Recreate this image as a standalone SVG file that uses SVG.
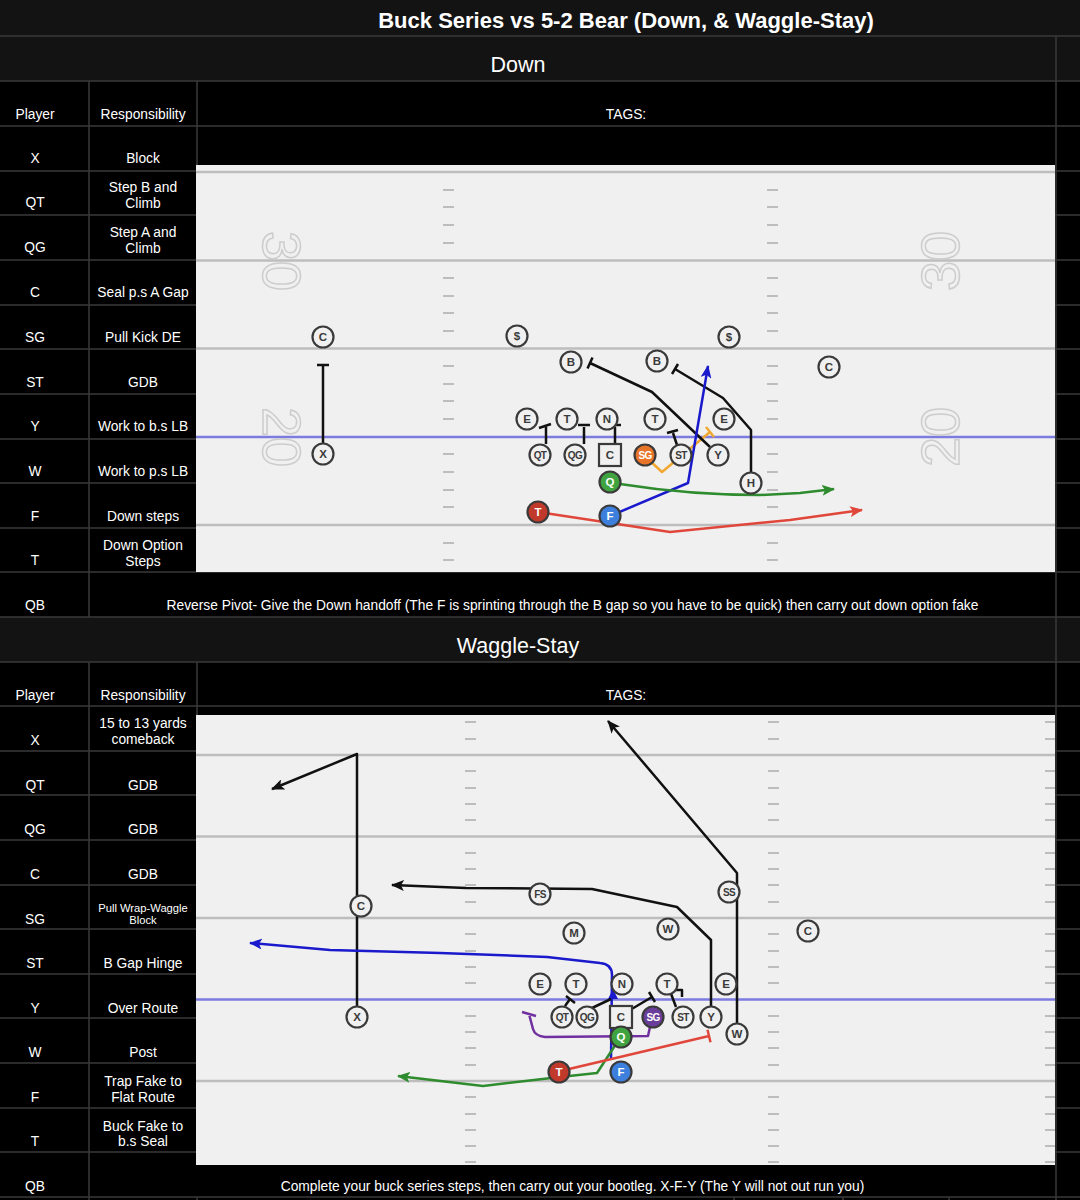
<svg xmlns="http://www.w3.org/2000/svg" width="1080" height="1200" viewBox="0 0 1080 1200">
<defs>
<style>
.t{font-family:"Liberation Sans",Arial,sans-serif;fill:#fff;text-anchor:middle}
.c13{font-size:13.8px}
.c11{font-size:11.2px}
.grid{stroke:#3a3a3a;stroke-width:1.5;fill:none}
.field{fill:#f0f0f0}
.yard{stroke:#bdbdbd;stroke-width:2.5;fill:none}
.hash{stroke:#bdbdbd;stroke-width:2;fill:none}
.los{stroke:#7b7be0;stroke-width:2.5;fill:none}
.num{font-family:"Liberation Sans",Arial,sans-serif;font-size:54px;fill:none;stroke:#cdcdcd;stroke-width:1.5;text-anchor:middle}
.p circle,.p rect{fill:#f0f0f0;stroke:#3a3a3a;stroke-width:2.2}
.p text{font-family:"Liberation Sans",Arial,sans-serif;font-weight:bold;font-size:11.5px;fill:#3a3a3a;text-anchor:middle}
.p text.s{font-size:10px;letter-spacing:-0.6px}
.p.col text{fill:#fff}
.rt{fill:none;stroke-width:2.5;stroke-linejoin:round;stroke-linecap:butt}
.k{stroke:#111}
.bl{stroke:#1a1acc}
.gr{stroke:#2e8b2e}
.rd{stroke:#e0463a}
.or{stroke:#f0a830}
.pu{stroke:#7030a0}
</style>
<marker id="ak" viewBox="0 0 13 11" refX="12" refY="5.5" markerWidth="13" markerHeight="11" markerUnits="userSpaceOnUse" orient="auto"><path d="M0,0 L13,5.5 L0,11 L3,5.5 z" fill="#111"/></marker>
<marker id="ab" viewBox="0 0 13 11" refX="12" refY="5.5" markerWidth="13" markerHeight="11" markerUnits="userSpaceOnUse" orient="auto"><path d="M0,0 L13,5.5 L0,11 L3,5.5 z" fill="#1a1acc"/></marker>
<marker id="ag" viewBox="0 0 13 11" refX="12" refY="5.5" markerWidth="13" markerHeight="11" markerUnits="userSpaceOnUse" orient="auto"><path d="M0,0 L13,5.5 L0,11 L3,5.5 z" fill="#2e8b2e"/></marker>
<marker id="ar" viewBox="0 0 13 11" refX="12" refY="5.5" markerWidth="13" markerHeight="11" markerUnits="userSpaceOnUse" orient="auto"><path d="M0,0 L13,5.5 L0,11 L3,5.5 z" fill="#e0463a"/></marker>
</defs>

<!-- backgrounds -->
<rect x="0" y="0" width="1080" height="1200" fill="#000"/>
<rect x="0" y="0" width="1080" height="36" fill="#131313"/>
<rect x="0" y="36" width="1080" height="45" fill="#131313"/>
<rect x="0" y="617" width="1080" height="45" fill="#131313"/>

<!-- grid -->
<g id="grid" class="grid">
<path d="M0 36H1080 M0 81H1080 M0 126H1080 M0 171H1080 M0 215H1080 M0 260H1080 M0 305H1080 M0 349H1080 M0 394H1080 M0 439H1080 M0 483H1080 M0 528H1080 M0 572H1080 M0 617H1080 M0 662H1080 M0 706H1080 M0 751H1080 M0 795H1080 M0 840H1080 M0 885H1080 M0 929H1080 M0 974H1080 M0 1018H1080 M0 1063H1080 M0 1108H1080 M0 1152H1080 M0 1197H1080"/>
<path d="M89 81V617 M197 81V572 M89 662V1200 M197 662V1152 M1056 36V1200 M197 1197V1200 M734 1197V1200 M843 1197V1200 M949 1197V1200"/>
</g>

<!-- header texts -->
<text class="t" x="626" y="28" font-size="22" font-weight="bold">Buck Series vs 5-2 Bear (Down, &amp; Waggle-Stay)</text>
<text class="t" x="518" y="72" font-size="21.5">Down</text>
<text class="t" x="518" y="653" font-size="21.5">Waggle-Stay</text>

<!-- table texts top -->
<g class="t c13">
<text x="35" y="118.5">Player</text><text x="143" y="118.5">Responsibility</text><text x="626" y="118.5">TAGS:</text>
<text x="35" y="162.5">X</text><text x="143" y="162.5">Block</text>
<text x="35" y="207">QT</text><text x="143" y="191.5">Step B and</text><text x="143" y="207.5">Climb</text>
<text x="35" y="251.5">QG</text><text x="143" y="236.5">Step A and</text><text x="143" y="252.5">Climb</text>
<text x="35" y="296.5">C</text><text x="143" y="296.5">Seal p.s A Gap</text>
<text x="35" y="341.5">SG</text><text x="143" y="341.5">Pull Kick DE</text>
<text x="35" y="386.5">ST</text><text x="143" y="386.5">GDB</text>
<text x="35" y="430.5">Y</text><text x="143" y="430.5">Work to b.s LB</text>
<text x="35" y="475.5">W</text><text x="143" y="475.5">Work to p.s LB</text>
<text x="35" y="520.5">F</text><text x="143" y="520.5">Down steps</text>
<text x="35" y="564.5">T</text><text x="143" y="549.5">Down Option</text><text x="143" y="565.5">Steps</text>
<text x="35" y="609.5">QB</text><text x="572.5" y="609.5">Reverse Pivot- Give the Down handoff (The F is sprinting through the B gap so you have to be quick) then carry out down option fake</text>
</g>

<!-- table texts bottom -->
<g class="t c13">
<text x="35" y="699.5">Player</text><text x="143" y="699.5">Responsibility</text><text x="626" y="699.5">TAGS:</text>
<text x="35" y="744.5">X</text><text x="143" y="727.5">15 to 13 yards</text><text x="143" y="743.5">comeback</text>
<text x="35" y="789.5">QT</text><text x="143" y="789.5">GDB</text>
<text x="35" y="833.5">QG</text><text x="143" y="833.5">GDB</text>
<text x="35" y="878.5">C</text><text x="143" y="878.5">GDB</text>
<text x="35" y="923.5">SG</text><text class="c11" x="143" y="911.5">Pull Wrap-Waggle</text><text class="c11" x="143" y="924">Block</text>
<text x="35" y="967.5">ST</text><text x="143" y="967.5">B Gap Hinge</text>
<text x="35" y="1012.5">Y</text><text x="143" y="1012.5">Over Route</text>
<text x="35" y="1056.5">W</text><text x="143" y="1056.5">Post</text>
<text x="35" y="1101.5">F</text><text x="143" y="1085.5">Trap Fake to</text><text x="143" y="1101.5">Flat Route</text>
<text x="35" y="1145.5">T</text><text x="143" y="1130.5">Buck Fake to</text><text x="143" y="1145.5">b.s Seal</text>
<text x="35" y="1190.5">QB</text><text x="572.5" y="1190.5">Complete your buck series steps, then carry out your bootleg. X-F-Y (The Y will not out run you)</text>
</g>

<!-- ===== TOP FIELD (Down) ===== -->
<rect class="field" x="196" y="165" width="859" height="407"/>
<path class="yard" d="M196 172H1055 M196 260.5H1055 M196 348.5H1055 M196 525H1055"/>
<path class="hash" d="M443 190h11M443 207h11M443 225h11M443 243h11M443 278h11M443 296h11M443 313h11M443 331h11M443 366h11M443 384h11M443 401h11M443 419h11M443 454h11M443 472h11M443 490h11M443 507h11M443 543h11M443 560h11 M767 190h11M767 207h11M767 225h11M767 243h11M767 278h11M767 296h11M767 313h11M767 331h11M767 366h11M767 384h11M767 401h11M767 419h11M767 454h11M767 472h11M767 490h11M767 507h11M767 543h11M767 560h11"/>
<path class="los" d="M196 437H1055"/>
<text class="num" transform="translate(282,261) rotate(90)" dy="0.36em">30</text>
<text class="num" transform="translate(282,437) rotate(90)" dy="0.36em">20</text>
<text class="num" transform="translate(940,261) rotate(-90)" dy="0.36em">30</text>
<text class="num" transform="translate(940,437) rotate(-90)" dy="0.36em">20</text>

<g id="connectors-down">
<path class="rt k" d="M323 443V365 M317 365H329"/>
<path class="rt k" d="M546 444V427 M539 428L551 424"/>
<path class="rt k" d="M584 444V427 M578 425H590"/>
<path class="rt k" d="M615 444V427 M609 425H621"/>
<path class="rt k" d="M677 445L673 433 M667 433L678 430"/>
<path class="rt or" d="M649 460L662 472L710 432 M706 427L714 437"/>
<path class="rt k" d="M710 447L652 392L590 363 M592.5 357.5L587.5 368.5"/>
<path class="rt k" d="M751 472V430L723 398L675 369 M678 364L672 374"/>
<path class="rt bl" d="M610 516L688 483L708 366" marker-end="url(#ab)"/>
<path class="rt gr" d="M620 484Q690 495 760 495L800 493L834 489" marker-end="url(#ag)"/>
<path class="rt rd" d="M538 512L670 532L790 520L862 510" marker-end="url(#ar)"/>
</g>

<g id="d-C1" class="p"><circle cx="323" cy="337" r="10.5"/><text x="323" y="341">C</text></g>
<g id="d-S1" class="p"><circle cx="517" cy="336" r="10.5"/><text x="517" y="340">$</text></g>
<g id="d-S2" class="p"><circle cx="729" cy="337" r="10.5"/><text x="729" y="341">$</text></g>
<g id="d-B1" class="p"><circle cx="571" cy="362" r="10.5"/><text x="571" y="366">B</text></g>
<g id="d-B2" class="p"><circle cx="657" cy="361" r="10.5"/><text x="657" y="365">B</text></g>
<g id="d-C2" class="p"><circle cx="829" cy="367" r="10.5"/><text x="829" y="371">C</text></g>
<g id="d-E1" class="p"><circle cx="527" cy="419" r="10.5"/><text x="527" y="423">E</text></g>
<g id="d-T1" class="p"><circle cx="567" cy="419" r="10.5"/><text x="567" y="423">T</text></g>
<g id="d-N" class="p"><circle cx="607" cy="419" r="10.5"/><text x="607" y="423">N</text></g>
<g id="d-T2" class="p"><circle cx="655" cy="419" r="10.5"/><text x="655" y="423">T</text></g>
<g id="d-E2" class="p"><circle cx="724" cy="419" r="10.5"/><text x="724" y="423">E</text></g>
<g id="d-QT" class="p"><circle cx="540" cy="455" r="10.5"/><text class="s" x="540" y="458.5">QT</text></g>
<g id="d-QG" class="p"><circle cx="575" cy="455" r="10.5"/><text class="s" x="575" y="458.5">QG</text></g>
<g id="d-Csq" class="p"><rect x="599" y="444" width="22" height="22"/><text x="610" y="459">C</text></g>
<g id="d-SG" class="p col"><circle cx="645" cy="455" r="10.5" style="fill:#e8742a"/><text class="s" x="645" y="458.5">SG</text></g>
<g id="d-ST" class="p"><circle cx="681" cy="455" r="10.5"/><text class="s" x="681" y="458.5">ST</text></g>
<g id="d-Y" class="p"><circle cx="718" cy="455" r="10.5"/><text x="718" y="459">Y</text></g>
<g id="d-X" class="p"><circle cx="323" cy="454" r="10.5"/><text x="323" y="458">X</text></g>
<g id="d-Q" class="p col"><circle cx="610" cy="482" r="10.5" style="fill:#3fa33f"/><text x="610" y="486">Q</text></g>
<g id="d-H" class="p"><circle cx="751" cy="483" r="10.5"/><text x="751" y="487">H</text></g>
<g id="d-T" class="p col"><circle cx="538" cy="512" r="10.5" style="fill:#c0392b"/><text x="538" y="516">T</text></g>
<g id="d-F" class="p col"><circle cx="610" cy="516" r="10.5" style="fill:#3d7fdc"/><text x="610" y="520">F</text></g>

<!-- ===== BOTTOM FIELD (Waggle-Stay) ===== -->
<rect class="field" x="196" y="715" width="859" height="450"/>
<path class="yard" d="M196 755H1055 M196 836.5H1055 M196 918H1055 M196 1081H1055"/>
<path class="hash" d="M465 722h11M465 739h11M465 771h11M465 788h11M465 804h11M465 820h11M465 853h11M465 869h11M465 885h11M465 902h11M465 934h11M465 951h11M465 967h11M465 983h11M465 1016h11M465 1032h11M465 1048h11M465 1065h11M465 1097h11M465 1114h11M465 1130h11M465 1146h11M465 1162h11 M768 722h11M768 739h11M768 771h11M768 788h11M768 804h11M768 820h11M768 853h11M768 869h11M768 885h11M768 902h11M768 934h11M768 951h11M768 967h11M768 983h11M768 1016h11M768 1032h11M768 1048h11M768 1065h11M768 1097h11M768 1114h11M768 1130h11M768 1146h11M768 1162h11 M1045 722h10M1045 739h10M1045 771h10M1045 788h10M1045 804h10M1045 820h10M1045 853h10M1045 869h10M1045 885h10M1045 902h10M1045 934h10M1045 951h10M1045 967h10M1045 983h10M1045 1016h10M1045 1032h10M1045 1048h10M1045 1065h10M1045 1097h10M1045 1114h10M1045 1130h10M1045 1146h10M1045 1162h10"/>
<path class="los" d="M196 999.5H1055"/>

<g id="connectors-waggle">
<path class="rt k" d="M357 1006V754L272 789" marker-end="url(#ak)"/>
<path class="rt k" d="M711 1006V940L677 907L592 889L466 888L392 885" marker-end="url(#ak)"/>
<path class="rt k" d="M737 1023V873L608 721" marker-end="url(#ak)"/>
<path class="rt bl" d="M611 1060L612 975Q612 964 600 963L547 957L440 953L330 950L250 943" marker-end="url(#ab)"/>
<path d="M608 999L613 989L618 999Z" fill="#1a1acc"/>
<path class="rt gr" d="M616 1044L597 1073L560 1077L483 1086L398 1076" marker-end="url(#ag)"/>
<path class="rt rd" d="M569 1069L709 1036 M707.5 1029.7L710.5 1042.3"/>
<path class="rt pu" d="M650 1027L648 1036L545 1037Q535 1036 533 1029L529 1014 M522 1012L536 1016"/>
<path class="rt k" d="M565 1006L570 999 M566 996L575 1003"/>
<path class="rt k" d="M592 1008L611 999"/>
<path class="rt k" d="M630 1010L652 997 M649 992L655 1002"/>
<path class="rt k" d="M676 1007L670 991 M668 990H682V997"/>
</g>

<g id="w-X" class="p"><circle cx="357" cy="1017" r="10.5"/><text x="357" y="1021">X</text></g>
<g id="w-C1" class="p"><circle cx="361" cy="906" r="10.5"/><text x="361" y="910">C</text></g>
<g id="w-FS" class="p"><circle cx="540" cy="894" r="10.5"/><text class="s" x="540" y="897.5">FS</text></g>
<g id="w-M" class="p"><circle cx="574" cy="933" r="10.5"/><text x="574" y="937">M</text></g>
<g id="w-W1" class="p"><circle cx="668" cy="929" r="10.5"/><text x="668" y="933">W</text></g>
<g id="w-SS" class="p"><circle cx="729" cy="892" r="10.5"/><text class="s" x="729" y="895.5">SS</text></g>
<g id="w-C2" class="p"><circle cx="808" cy="931" r="10.5"/><text x="808" y="935">C</text></g>
<g id="w-E1" class="p"><circle cx="540" cy="984" r="10.5"/><text x="540" y="988">E</text></g>
<g id="w-T1" class="p"><circle cx="576" cy="984" r="10.5"/><text x="576" y="988">T</text></g>
<g id="w-N" class="p"><circle cx="622" cy="984" r="10.5"/><text x="622" y="988">N</text></g>
<g id="w-T2" class="p"><circle cx="667" cy="984" r="10.5"/><text x="667" y="988">T</text></g>
<g id="w-E2" class="p"><circle cx="726" cy="984" r="10.5"/><text x="726" y="988">E</text></g>
<g id="w-QT" class="p"><circle cx="562" cy="1017" r="10.5"/><text class="s" x="562" y="1020.5">QT</text></g>
<g id="w-QG" class="p"><circle cx="587" cy="1017" r="10.5"/><text class="s" x="587" y="1020.5">QG</text></g>
<g id="w-Csq" class="p"><rect x="610" y="1006" width="22" height="22"/><text x="621" y="1021">C</text></g>
<g id="w-SG" class="p col"><circle cx="653" cy="1017" r="10.5" style="fill:#6a3d9a"/><text class="s" x="653" y="1020.5">SG</text></g>
<g id="w-ST" class="p"><circle cx="683" cy="1017" r="10.5"/><text class="s" x="683" y="1020.5">ST</text></g>
<g id="w-Y" class="p"><circle cx="711" cy="1017" r="10.5"/><text x="711" y="1021">Y</text></g>
<g id="w-W2" class="p"><circle cx="737" cy="1034" r="10.5"/><text x="737" y="1038">W</text></g>
<g id="w-Q" class="p col"><circle cx="621" cy="1037" r="10.5" style="fill:#3fa33f"/><text x="621" y="1041">Q</text></g>
<g id="w-T" class="p col"><circle cx="559" cy="1072" r="10.5" style="fill:#c0392b"/><text x="559" y="1076">T</text></g>
<g id="w-F" class="p col"><circle cx="621" cy="1072" r="10.5" style="fill:#3d7fdc"/><text x="621" y="1076">F</text></g>
</svg>
